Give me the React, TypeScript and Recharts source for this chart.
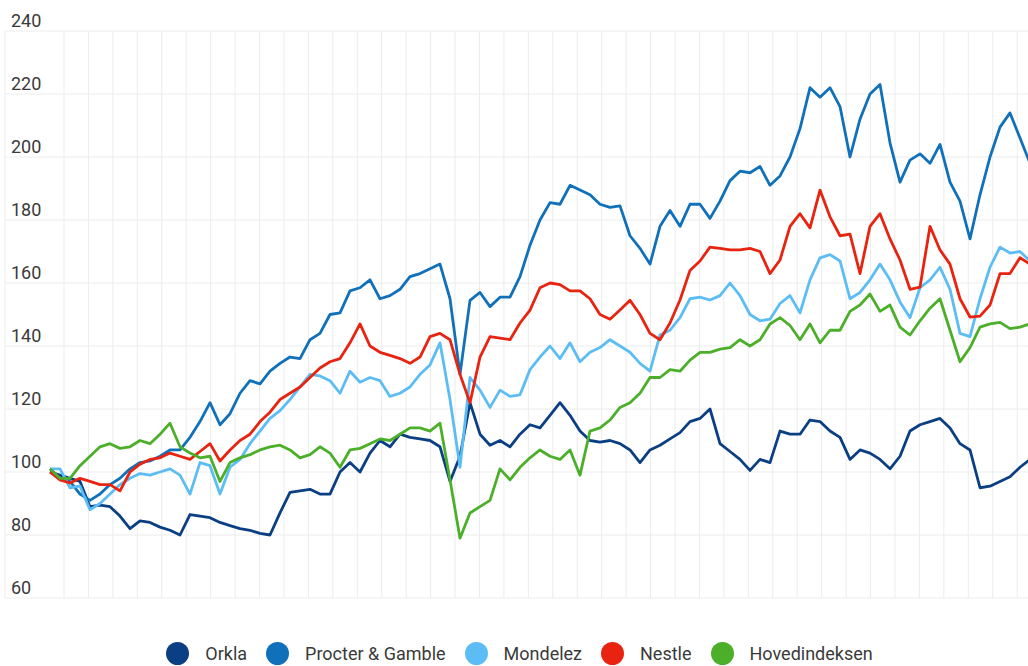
import React from 'react';
import {
  LineChart,
  Line,
  XAxis,
  YAxis,
  CartesianGrid,
  Legend,
} from 'recharts';

// one sample every ~10px of the original picture, left to right
const orkla = [
  100, 99, 98, 97, 89, 89.5, 89, 86, 82, 84.5,
  84, 82.5, 81.5, 80, 86.5, 86, 85.5, 84, 83, 82,
  81.5, 80.5, 80, 87, 93.5, 94, 94.5, 93, 93, 100,
  103, 100, 106, 110, 108, 112, 111, 110.5, 110, 108,
  97, 105, 122, 112, 108.5, 110, 108, 112, 115, 114,
  118, 122, 118, 113, 110, 109.5, 110, 109, 107, 103,
  107, 108.5, 110.5, 112.5, 116, 117, 120, 109, 106.5, 104,
  100.5, 104, 103, 113, 112, 112, 116.5, 116, 113, 111,
  104, 107, 106, 104, 101, 105, 113, 115, 116, 117,
  114, 109, 107, 95, 95.5, 97, 98.5, 101.5, 104,
];

const procter = [
  101, 98, 97, 93, 91, 93, 96, 98, 101, 103,
  103.5, 105, 107, 107, 111, 116, 122, 115, 118.5, 125,
  129, 128, 132, 134.5, 136.5, 136, 142, 144, 150, 150.5,
  157.5, 158.5, 161, 155, 156, 158, 162, 163, 164.5, 166,
  155, 131, 154.5, 157, 152.5, 155.5, 155.5, 162, 172, 180,
  185.5, 185, 191, 189.5, 188, 185, 184, 184.5, 175, 171,
  166, 178, 183, 178, 185, 185, 180.5, 186, 192.5, 195.5,
  195, 197, 191, 194, 200, 209, 222, 219, 222, 216,
  200, 212, 220, 223, 204.5, 192, 199, 201, 198, 204,
  192, 186, 174, 188, 200, 209.5, 214, 206, 198,
];

const mondelez = [
  101, 101, 95, 95.5, 88, 90, 93, 96, 98, 99.5,
  99, 100, 101, 99, 93, 103, 102, 93, 101.5, 104,
  109, 113, 117, 119.5, 123, 127, 131, 130.5, 129, 125,
  132, 128.5, 130, 129, 124, 125, 127, 131, 134, 141,
  123, 101.5, 130, 126, 120.5, 126, 124, 124.5, 132.5, 136.5,
  140, 136, 141, 135, 138, 139.5, 142, 140, 138, 134.5,
  132, 143.5, 145, 149, 155, 155.5, 154.6, 156, 160, 156,
  150, 148, 148.5, 153.5, 156, 150.5, 161, 168, 169, 167,
  155, 157, 161, 166, 161, 154, 149, 158.5, 161, 165,
  158, 144, 143, 155, 165, 171.4, 169.5, 170, 167,
];

const nestle = [
  100, 97.5, 96.5, 98, 97, 96, 96, 94, 100, 102.5,
  104, 104.5, 106, 105, 104, 106.5, 109, 103.5, 107, 110,
  112, 116, 119, 123, 125, 127, 130, 133, 135, 136,
  141, 147, 140, 138, 137, 136, 134.5, 136.5, 143, 144,
  142, 131, 122, 136.5, 143, 142.5, 142, 147.3, 151.4, 158.5,
  160, 159.5, 157.5, 157.5, 155, 150, 148.5, 151.4, 154.5, 150,
  144, 142, 147.3, 154.6, 164, 167, 171.4, 171, 170.5, 170.5,
  171, 170, 163, 167.3, 178, 182, 177.5, 189.5, 181, 175,
  175.5, 163, 178, 182, 174, 167.3, 158, 158.7, 178, 170.5,
  166, 155, 149.2, 149.5, 153, 163, 163, 168, 166,
];

const hovedindeksen = [
  101, 98, 98, 102, 105, 108, 109, 107.5, 108, 110,
  109, 112, 115.5, 108, 106, 104.5, 105, 97, 103, 104.5,
  105.5, 107, 108, 108.5, 107, 104.5, 105.5, 108, 106, 101.5,
  107, 107.5, 109, 110.5, 110, 112, 114, 114, 113, 115.5,
  97.5, 79, 87, 89, 91, 101, 97.5, 101.5, 104.5, 107,
  105, 104, 107, 99, 113, 114, 116.5, 120.5, 122, 125,
  130, 130, 132.5, 132, 135.5, 138, 138, 139, 139.5, 142,
  140, 142, 147, 149, 146.5, 142, 147, 141, 145, 145,
  151, 153, 156.5, 151, 153, 146, 143.5, 148, 152, 155,
  145, 135, 139.5, 146, 147, 147.5, 145.5, 146, 147,
];

const Y_TICKS = [60, 80, 100, 120, 140, 160, 180, 200, 220, 240];
// vertical grid lines, about one every 2.44 samples
const GRID_TICKS = Array.from({ length: 40 }, (_, k) => 1.4 + k * 2.444);

const SERIES = [
  { key: 'orkla', name: 'Orkla', color: '#0b3f84' },
  { key: 'procter', name: 'Procter & Gamble', color: '#1070ba' },
  { key: 'mondelez', name: 'Mondelez', color: '#5cbdf5' },
  { key: 'nestle', name: 'Nestle', color: '#e8230f' },
  { key: 'hovedindeksen', name: 'Hovedindeksen', color: '#4caf2a' },
];

const data = orkla.map((v, i) => ({
  i,
  orkla: v,
  procter: procter[i],
  mondelez: mondelez[i],
  nestle: nestle[i],
  hovedindeksen: hovedindeksen[i],
}));

const FONT = 'Roboto, sans-serif';

const YTick = (props: any) => {
  const { y, payload } = props;
  return (
    <text x={11} y={y - 4} fill="#3a3a3a" fontSize={18} fontFamily={FONT}>
      {payload.value}
    </text>
  );
};

const LegendContent = () => (
  <div
    style={{
      height: 68,
      display: 'flex',
      justifyContent: 'center',
      alignItems: 'flex-end',
      paddingBottom: 1,
      boxSizing: 'border-box',
      fontFamily: FONT,
      fontSize: 18,
      color: '#3a3a3a',
      position: 'relative',
      left: -3,
    }}
  >
    {SERIES.map((s, idx) => (
      <div
        key={s.key}
        style={{
          display: 'flex',
          alignItems: 'center',
          marginRight: idx < SERIES.length - 1 ? 19 : 0,
        }}
      >
        <span
          style={{
            width: 23,
            height: 23,
            borderRadius: '50%',
            background: s.color,
            marginRight: 16,
            display: 'inline-block',
          }}
        />
        <span>{s.name}</span>
      </div>
    ))}
  </div>
);

export default function App() {
  return (
    <div
      style={{
        position: 'absolute',
        left: 0,
        top: 0,
        width: 1028,
        height: 666,
        overflow: 'hidden',
        background: '#fff',
      }}
    >
      <LineChart
        width={1040}
        height={666}
        data={data}
        margin={{ top: 31, right: 0, left: 5, bottom: 0 }}
      >
        <CartesianGrid stroke="#ececec" strokeWidth={1} />
        <XAxis
          dataKey="i"
          type="number"
          domain={[-4.5, 99]}
          ticks={GRID_TICKS}
          interval={0}
          hide
        />
        <YAxis
          domain={[60, 240]}
          ticks={Y_TICKS}
          mirror
          axisLine={false}
          tickLine={false}
          tick={<YTick />}
          allowDataOverflow
        />
        <Legend verticalAlign="bottom" height={68} content={<LegendContent />} />
        {SERIES.map((s) => (
          <Line
            key={s.key}
            dataKey={s.key}
            name={s.name}
            stroke={s.color}
            strokeWidth={2.8}
            dot={false}
            type="linear"
            strokeLinejoin="round"
            isAnimationActive={false}
          />
        ))}
      </LineChart>
    </div>
  );
}
